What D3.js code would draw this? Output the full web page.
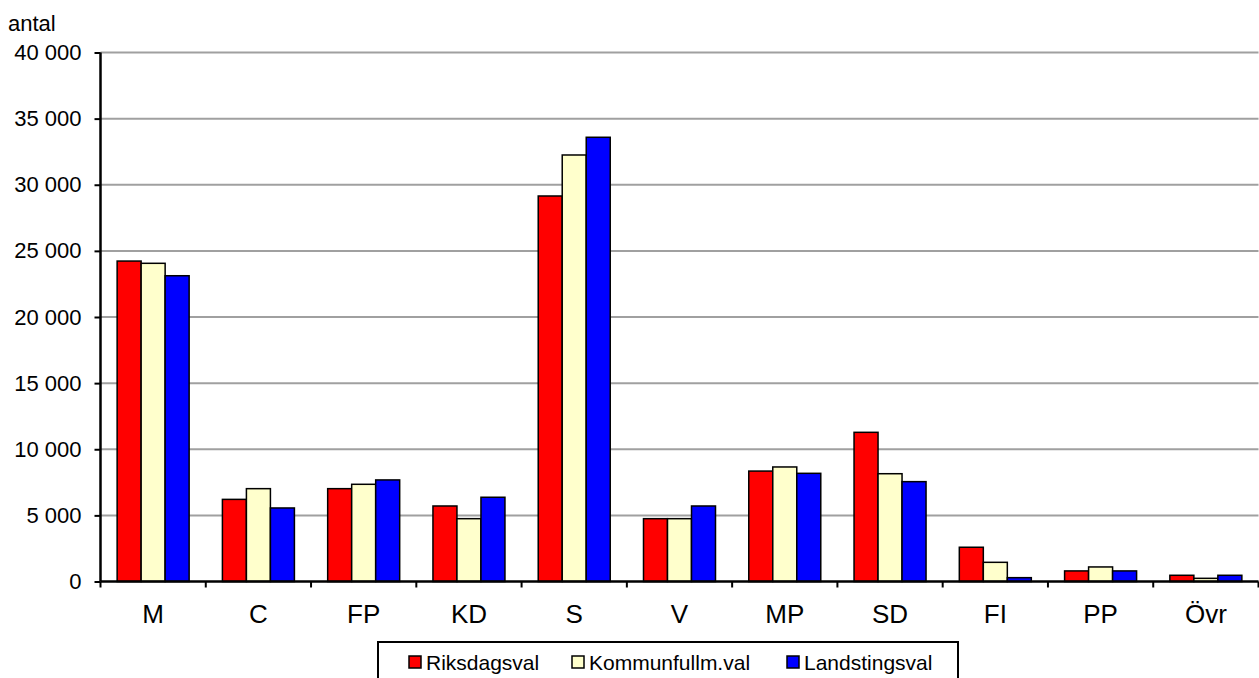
<!DOCTYPE html>
<html>
<head>
<meta charset="utf-8">
<script src="https://cdn.jsdelivr.net/npm/d3@7"></script>
<style>
  html, body { margin: 0; padding: 0; background: #fff; }
  svg { display: block; font-family: "Liberation Sans", Arial, sans-serif; }
</style>
</head>
<body>
<svg id="chart" width="1259" height="678"></svg>
<script>
const categories = ["M", "C", "FP", "KD", "S", "V", "MP", "SD", "FI", "PP", "Övr"];
const seriesNames = ["Riksdagsval", "Kommunfullm.val", "Landstingsval"];
const riksdagsval     = [24230, 6210, 7020, 5710, 29150, 4750, 8350, 11280, 2590, 800, 470];
const kommunfullmval  = [24060, 7020, 7350, 4750, 32250, 4750, 8660, 8150, 1450, 1100, 240];
const landstingsval   = [23120, 5560, 7680, 6370, 33590, 5710, 8180, 7550, 290, 800, 470];
const seriesColors = ["#ff0000", "#ffffcc", "#0000ff"];
const yTicks = [0, 5000, 10000, 15000, 20000, 25000, 30000, 35000, 40000];
const yAxisTitle = "antal";

const seriesValues = [riksdagsval, kommunfullmval, landstingsval];

const svg = d3.select("#chart");
const pLeft = 100.5, pRight = 1258.5, pTop = 52.5, pBottom = 581.5;

const x = d3.scaleBand().domain(categories).range([pLeft, pRight]).padding(0);
const x1 = d3.scaleBand().domain(seriesNames)
  .range([x.bandwidth() * 0.158, x.bandwidth() * 0.842]).padding(0);
const y = d3.scaleLinear().domain([0, 40000]).range([pBottom, pTop]);
const fmt = d => d3.format(",")(d).replace(/,/g, " ");

// gridlines
svg.append("g").selectAll("line").data(yTicks.filter(d => d > 0)).join("line")
  .attr("x1", pLeft).attr("x2", pRight)
  .attr("y1", d => y(d)).attr("y2", d => y(d))
  .attr("stroke", "#a0a0a0").attr("stroke-width", 2);

// bars
const groups = svg.append("g").selectAll("g").data(categories).join("g")
  .attr("transform", c => `translate(${x(c)},0)`);
groups.selectAll("rect")
  .data((c, i) => seriesNames.map((s, j) => ({ s, j, v: seriesValues[j][i] })))
  .join("rect")
  .attr("x", d => x1(d.s))
  .attr("width", x1.bandwidth())
  .attr("y", d => y(d.v))
  .attr("height", d => y(0) - y(d.v))
  .attr("fill", d => seriesColors[d.j])
  .attr("stroke", "#000").attr("stroke-width", 1.5);

// y axis
const yAxis = d3.axisLeft(y).tickValues(yTicks).tickFormat(fmt).tickSize(6).tickPadding(13);
const gy = svg.append("g").attr("transform", `translate(${pLeft},0)`).call(yAxis);
gy.select(".domain").attr("stroke", "#000").attr("stroke-width", 2.5).attr("d", `M0,${pTop}V${pBottom}`);
gy.selectAll(".tick line").attr("stroke", "#000").attr("stroke-width", 2);
gy.selectAll(".tick text").attr("font-size", 22).attr("fill", "#000")
  .attr("font-family", "Liberation Sans, Arial, sans-serif");

// x axis
const xAxis = d3.axisBottom(x).tickSize(0).tickPadding(0);
const gx = svg.append("g").attr("transform", `translate(0,${pBottom})`).call(xAxis);
gx.select(".domain").attr("stroke", "#000").attr("stroke-width", 2.5).attr("d", `M${pLeft},0H${pRight}`);
gx.selectAll(".tick text").attr("font-size", 26).attr("fill", "#000").attr("dy", 0).attr("y", 41.5)
  .attr("font-family", "Liberation Sans, Arial, sans-serif");
// category boundary ticks
gx.append("g").selectAll("line").data(categories.concat(["__end"])).join("line")
  .attr("x1", (c, i) => i < categories.length ? x(c) : pRight)
  .attr("x2", (c, i) => i < categories.length ? x(c) : pRight)
  .attr("y1", 0).attr("y2", 6)
  .attr("stroke", "#000").attr("stroke-width", 2);

// y axis title
svg.append("text").attr("x", 8).attr("y", 31).attr("font-size", 22).attr("fill", "#000").text(yAxisTitle);

// legend
const legend = svg.append("g");
legend.append("rect").attr("x", 378).attr("y", 642).attr("width", 580).attr("height", 50)
  .attr("fill", "#fff").attr("stroke", "#000").attr("stroke-width", 2);
const legendX = [409, 572, 787];
const items = legend.selectAll("g.item").data(seriesNames).join("g").attr("class", "item")
  .attr("transform", (d, i) => `translate(${legendX[i]},0)`);
items.append("rect").attr("x", 0).attr("y", 656).attr("width", 12).attr("height", 12)
  .attr("fill", (d, i) => seriesColors[i]).attr("stroke", "#000").attr("stroke-width", 1.5);
items.append("text").attr("x", 17).attr("y", 670).attr("font-size", 21).attr("fill", "#000").text(d => d);
</script>
</body>
</html>
